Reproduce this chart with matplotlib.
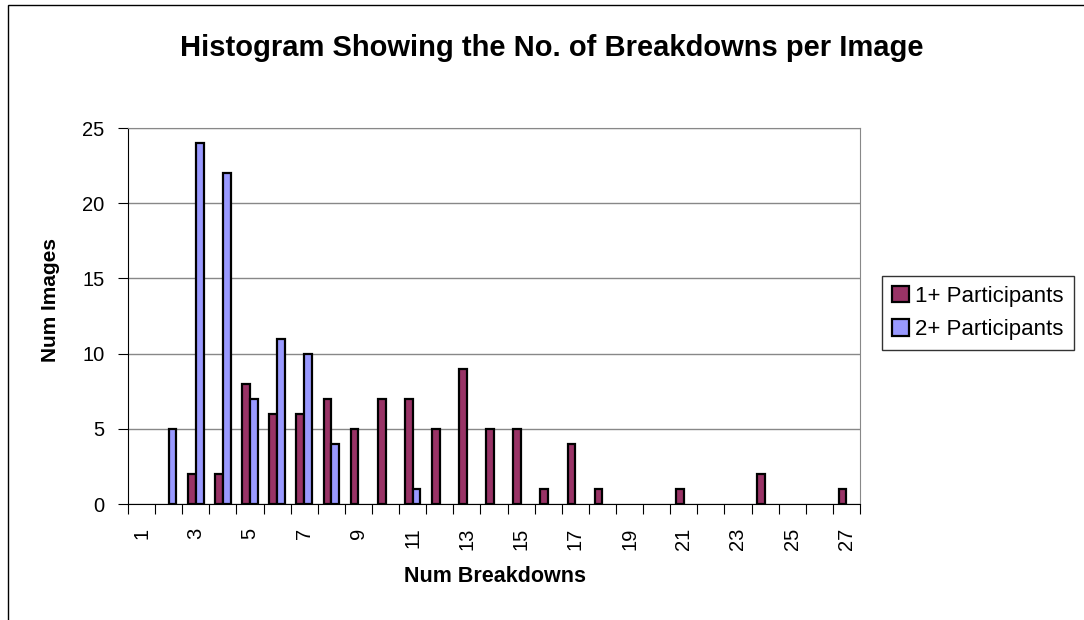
import matplotlib.pyplot as plt
from matplotlib.patches import Rectangle
import numpy as np

plt.rcParams['font.family'] = ['Liberation Sans', 'DejaVu Sans']

breakdowns = list(range(1, 28))
one_plus = [0, 0, 2, 2, 8, 6, 6, 7, 5, 7, 7, 5, 9, 5, 5, 1, 4, 1, 0, 0, 1, 0, 0, 2, 0, 0, 1]
two_plus = [0, 5, 24, 22, 7, 11, 10, 4, 0, 0, 1, 0, 0, 0, 0, 0, 0, 0, 0, 0, 0, 0, 0, 0, 0, 0, 0]
series_names = ["1+ Participants", "2+ Participants"]

fig = plt.figure(figsize=(10.84, 6.2), dpi=100)
ax = fig.add_axes([128/1084, 116/620, 732/1084, 376/620])

# outer chart border
fig.patches.append(Rectangle((8/1084, -0.1), 1.2, (615/620) + 0.1, transform=fig.transFigure,
                             fill=False, edgecolor='black', linewidth=1))

x = np.array(breakdowns)
a = np.array(one_plus, dtype=float)
b = np.array(two_plus, dtype=float)
w = 0.285
m1 = a > 0
m2 = b > 0
ax.bar(x[m1] - w/2, a[m1], width=w, color='#993366', edgecolor='black', linewidth=1.6,
       label=series_names[0], zorder=3)
ax.bar(x[m2] + w/2, b[m2], width=w, color='#9999FF', edgecolor='black', linewidth=1.6,
       label=series_names[1], zorder=3)

ax.set_xlim(0.5, 27.5)
ax.set_ylim(0, 25)
ax.set_yticks(range(0, 26, 5))
ax.yaxis.grid(True, color='#888888', linewidth=1)
ax.set_axisbelow(True)

ax.set_xticks(np.arange(0.5, 28, 1))
ax.set_xticklabels([])
ax.set_xticks(x[::2], minor=True)
ax.set_xticklabels([str(v) for v in breakdowns[::2]], minor=True, rotation=90, fontsize=14.5)
ax.tick_params(axis='x', which='minor', length=0, pad=17)
ax.tick_params(axis='x', which='major', length=7, direction='out')
ax.tick_params(axis='y', length=7, direction='out', labelsize=14.5, pad=10)

for s in ['top', 'right']:
    ax.spines[s].set_color('#888888')
for s in ['left', 'bottom']:
    ax.spines[s].set_color('black')

fig.text(495/1084, 1 - 576/620, "Num Breakdowns", ha='center', va='center',
         fontsize=15.5, fontweight='bold')
fig.text(51/1084, 1 - 300/620, "Num Images", ha='center', va='center', rotation=90,
         fontsize=15, fontweight='bold')
fig.text(552/1084, 1 - 48/620, "Histogram Showing the No. of Breakdowns per Image",
         ha='center', va='center', fontsize=21, fontweight='bold')

leg = fig.legend(loc='upper left', bbox_to_anchor=(882/1084, 1 - 276/620), fontsize=16,
                 frameon=True, fancybox=False, edgecolor='black', handlelength=0.75,
                 handleheight=0.75, handletextpad=0.3, borderpad=0.45, labelspacing=0.55,
                 borderaxespad=0)
leg.get_frame().set_linewidth(1)

fig.savefig("out.png", dpi=100)
